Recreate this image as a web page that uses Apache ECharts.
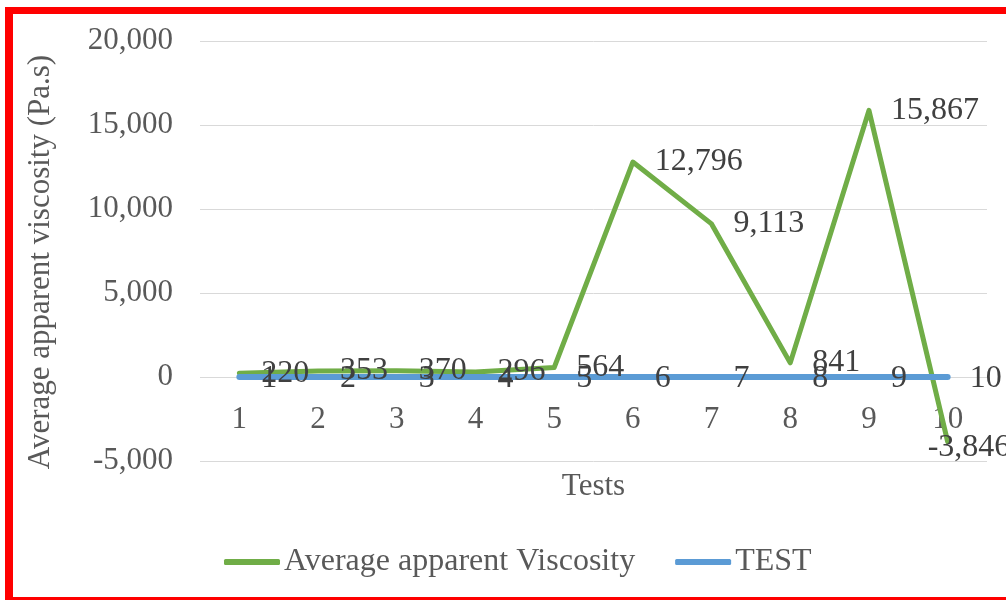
<!DOCTYPE html>
<html lang="en">
<head>
    <meta charset="UTF-8">
    <title>Average apparent viscosity</title>
    <style>
        body {
            margin: 0px;
            padding: 0px;
            background: #ffffff;
        }

        #chart {
            position: absolute;
            left: 0;
            top: 0;
            width: 1006px;
            height: 600px;
        }

        #frame {
            position: absolute;
            left: 5px;
            top: 7px;
            width: 1020px;
            height: 583px;
            border-top: 7px solid #ff0000;
            border-left: 8px solid #ff0000;
            border-bottom: 7px solid #ff0000;
            pointer-events: none;
        }
    </style>
</head>
<body>
    <div id="chart"></div>
    <div id="frame"></div>
    <script src="https://cdn.jsdelivr.net/npm/echarts@6/dist/echarts.min.js"></script>
    <script>
        // data
        var tests = ['1', '2', '3', '4', '5', '6', '7', '8', '9', '10'];
        var viscosity = [220, 353, 370, 296, 564, 12796, 9113, 841, 15867, -3846];
        var testLine = [0, 0, 0, 0, 0, 0, 0, 0, 0, 0];
        var yTicks = [-5000, 0, 5000, 10000, 15000, 20000];

        var font = '"Liberation Serif", "Times New Roman", serif';
        var fs = 31;
        var green = '#70AD47';
        var blue = '#5B9BD5';

        function fmt(v) {
            return echarts.format.addCommas(v);
        }

        // last label sits pushed back inside the chart, like in the original
        var greenData = viscosity.map(function (v, i) {
            if (i === viscosity.length - 1) {
                return { value: v, label: { offset: [-42, 6] } };
            }
            return v;
        });

        var chart = echarts.init(document.getElementById('chart'));
        var option = {
            animation: false,
            grid: {
                left: 200,
                right: 19,
                top: 41,
                bottom: 139
            },
            legend: {
                left: 219,
                top: 541,
                icon: 'roundRect',
                itemWidth: 56,
                itemHeight: 6,
                itemGap: 40,
                textStyle: {
                    fontFamily: font,
                    fontSize: 32,
                    color: '#595959',
                    padding: [0, 0, 0, -1]
                },
                data: ['Average apparent Viscosity', 'TEST']
            },
            xAxis: {
                type: 'category',
                data: tests,
                boundaryGap: true,
                name: 'Tests',
                nameLocation: 'middle',
                nameGap: 10,
                nameTextStyle: {
                    fontFamily: font,
                    fontSize: fs,
                    color: '#595959'
                },
                axisLine: { show: false },
                axisTick: { show: false },
                axisLabel: {
                    // labels sit under the zero line, not at the bottom
                    margin: -57,
                    fontFamily: font,
                    fontSize: fs,
                    color: '#595959'
                }
            },
            yAxis: {
                type: 'value',
                min: yTicks[0],
                max: yTicks[yTicks.length - 1],
                interval: 5000,
                name: 'Average apparent viscosity (Pa.s)',
                nameLocation: 'middle',
                nameGap: 144,
                nameTextStyle: {
                    fontFamily: font,
                    fontSize: fs,
                    color: '#595959',
                    padding: [0, 22, 0, 0]
                },
                axisLine: { show: false },
                axisTick: { show: false },
                splitLine: {
                    lineStyle: { color: '#d9d9d9', width: 1 }
                },
                axisLabel: {
                    margin: 27,
                    fontFamily: font,
                    fontSize: fs,
                    color: '#595959',
                    formatter: fmt
                }
            },
            series: [
                {
                    name: 'Average apparent Viscosity',
                    type: 'line',
                    data: greenData,
                    symbol: 'circle',
                    symbolSize: 0,
                    color: green,
                    lineStyle: { color: green, width: 5, cap: 'round', join: 'round' },
                    label: {
                        show: true,
                        position: 'right',
                        distance: 22,
                        fontFamily: font,
                        fontSize: 32,
                        color: '#404040',
                        formatter: function (p) { return fmt(p.value); }
                    }
                },
                {
                    name: 'TEST',
                    type: 'line',
                    data: testLine,
                    symbol: 'circle',
                    symbolSize: 0,
                    color: blue,
                    lineStyle: { color: blue, width: 6, cap: 'round' },
                    label: {
                        show: true,
                        position: 'right',
                        distance: 22,
                        offset: [0, 2],
                        fontFamily: font,
                        fontSize: 32,
                        color: '#404040',
                        formatter: '{b}'
                    }
                }
            ]
        };
        chart.setOption(option);
    </script>
</body>
</html>
